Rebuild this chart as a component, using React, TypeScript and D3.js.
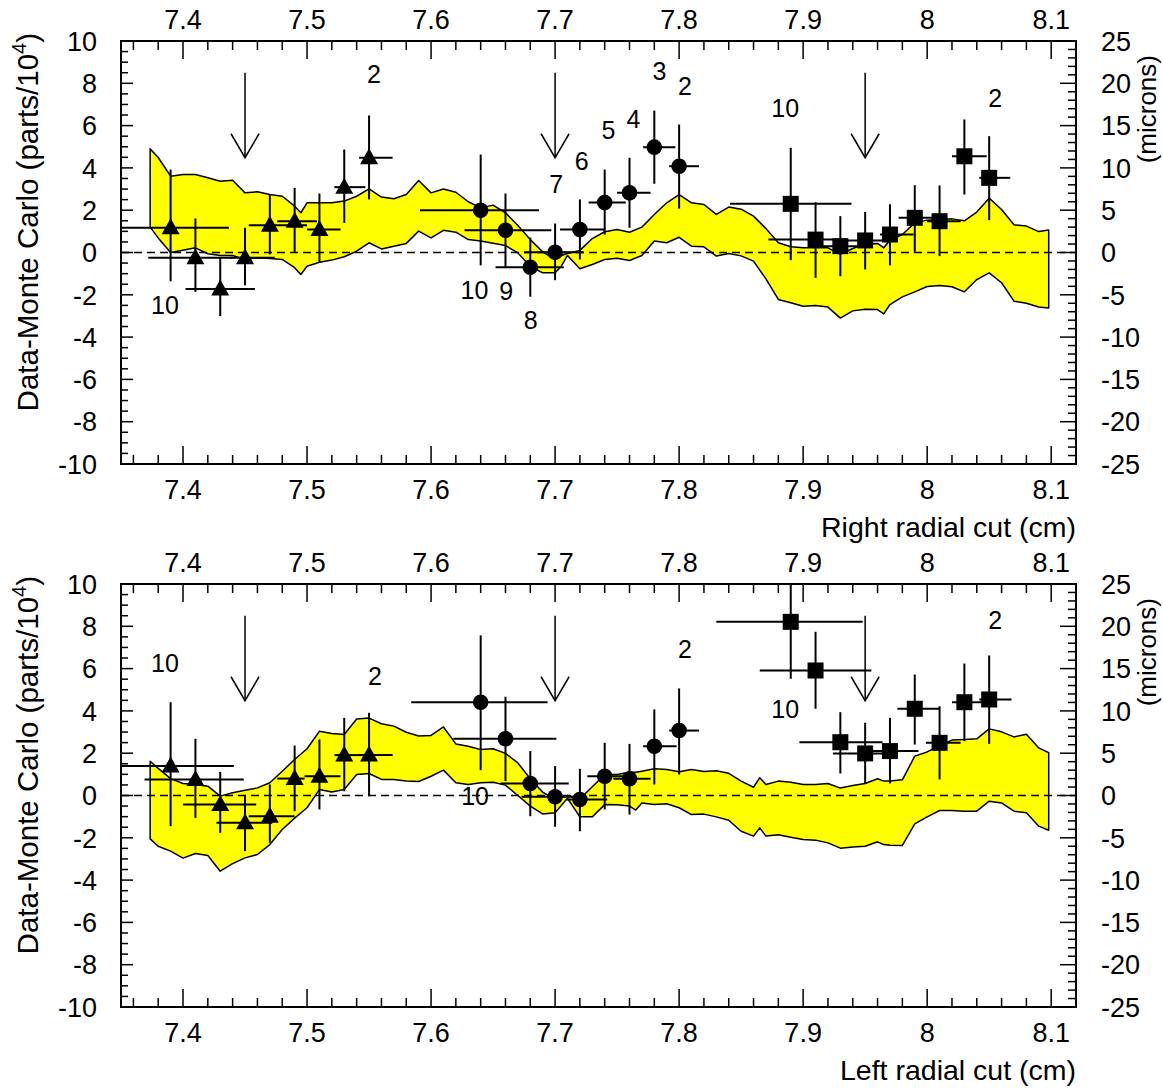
import React from "react";
import * as d3 from "d3";

const W = 1163;
const H = 1088;
const FONT = "'Liberation Sans', Arial, Helvetica, sans-serif";

// axis ticks
const xMajorTicks = [7.4, 7.5, 7.6, 7.7, 7.8, 7.9, 8.0, 8.1];
const xMajorLabels = ["7.4", "7.5", "7.6", "7.7", "7.8", "7.9", "8", "8.1"];
const yMajorTicks = [-10, -8, -6, -4, -2, 0, 2, 4, 6, 8, 10];
const micronMajorTicks = [-25, -20, -15, -10, -5, 0, 5, 10, 15, 20, 25];
const arrowXs = [7.45, 7.7, 7.95];

// band: [x, upper, lower]
const rightBand = [
  [7.3735, 4.9, 1.2], [7.38, 4.49, 0.69], [7.39, 3.61, 0.0], [7.4, 3.69, 0.11], [7.41, 3.69, 0.22],
  [7.42, 3.53, -0.06], [7.43, 3.37, -0.14], [7.44, 3.42, -0.14], [7.45, 2.82, -0.33], [7.46, 2.87, -0.25],
  [7.47, 2.74, -0.28], [7.48, 2.66, -0.33], [7.49, 2.19, -0.72], [7.495, 1.88, -1.04], [7.5, 2.35, -0.65],
  [7.51, 2.35, -0.46], [7.52, 2.35, -0.36], [7.53, 2.43, -0.2], [7.54, 2.66, 0.06], [7.55, 3.01, 0.46],
  [7.56, 2.62, 0.17], [7.57, 2.54, 0.3], [7.58, 2.74, 0.43], [7.59, 3.4, 1.01], [7.6, 2.82, 0.69],
  [7.61, 3.0, 1.05], [7.62, 2.85, 0.96], [7.63, 2.4, 0.61], [7.64, 2.11, 0.54], [7.65, 2.24, 0.44],
  [7.66, 1.88, 0.33], [7.67, 1.28, -0.02], [7.68, 0.61, -0.65], [7.69, 0.03, -0.96], [7.7, -0.33, -0.96],
  [7.705, -0.14, -0.65], [7.71, -0.05, -0.14], [7.72, 0.1, -0.77], [7.73, 0.66, -0.57], [7.74, 0.98, -0.33],
  [7.75, 1.09, -0.27], [7.76, 0.96, -0.38], [7.77, 1.2, -0.14], [7.78, 1.8, 0.54], [7.79, 2.35, 0.46],
  [7.8, 2.74, 0.72], [7.81, 2.35, 0.3], [7.82, 2.27, 0.27], [7.83, 1.8, -0.17], [7.84, 2.15, -0.05],
  [7.85, 2.05, -0.16], [7.86, 1.72, -0.41], [7.87, 1.13, -1.25], [7.88, 0.46, -2.22], [7.89, 0.27, -2.38],
  [7.9, 0.22, -2.54], [7.91, 0.22, -2.51], [7.92, 0.22, -2.58], [7.93, -0.09, -3.1], [7.94, 0.19, -2.76],
  [7.95, 0.41, -2.68], [7.96, 0.43, -2.7], [7.965, 0.22, -2.9], [7.97, 0.58, -2.46], [7.98, 0.85, -2.1],
  [7.99, 1.4, -1.86], [8.0, 1.53, -1.61], [8.01, 1.56, -1.56], [8.02, 1.59, -1.62], [8.03, 1.5, -1.86],
  [8.04, 1.91, -1.28], [8.05, 2.57, -0.96], [8.06, 2.03, -1.43], [8.07, 1.31, -2.3], [8.08, 1.25, -2.4],
  [8.09, 0.99, -2.58], [8.098, 1.06, -2.62],
];

const leftBand = [
  [7.3735, 1.62, -2.05], [7.38, 1.28, -2.4], [7.39, 0.8, -2.63], [7.4, 0.57, -2.96], [7.41, 0.52, -2.74],
  [7.42, 0.44, -2.84], [7.43, -0.03, -3.58], [7.44, 0.13, -3.22], [7.45, 0.25, -2.95], [7.46, 0.36, -2.79],
  [7.47, 0.6, -2.32], [7.48, 1.15, -1.61], [7.49, 1.7, -1.07], [7.5, 2.21, -0.58], [7.51, 3.04, 0.28],
  [7.52, 2.93, 0.17], [7.53, 2.88, 0.28], [7.54, 3.62, 0.99], [7.55, 3.66, 1.04], [7.56, 3.39, 0.76],
  [7.57, 3.28, 0.76], [7.58, 2.99, 0.69], [7.59, 2.81, 0.66], [7.6, 2.84, 0.91], [7.61, 3.24, 1.2],
  [7.62, 2.44, 0.6], [7.63, 2.33, 0.52], [7.64, 2.17, 0.6], [7.65, 2.21, 0.63], [7.66, 1.99, 0.49],
  [7.67, 1.54, 0.0], [7.68, 0.79, -0.5], [7.69, 0.16, -0.87], [7.7, -0.19, -0.82], [7.71, 0.0, -0.13],
  [7.72, -0.16, -1.01], [7.73, 0.41, -1.01], [7.74, 0.99, -0.43], [7.75, 0.99, -0.44], [7.76, 1.1, -0.5],
  [7.765, 1.1, -0.69], [7.77, 1.15, -0.35], [7.78, 1.26, -0.43], [7.79, 1.23, -0.39], [7.8, 1.12, -0.58],
  [7.81, 1.23, -0.9], [7.82, 1.13, -0.88], [7.83, 1.17, -1.01], [7.84, 1.05, -1.17], [7.85, 0.68, -1.69],
  [7.86, 0.39, -1.92], [7.865, 0.84, -1.53], [7.87, 0.52, -1.92], [7.88, 0.68, -1.86], [7.89, 0.63, -1.97],
  [7.9, 0.52, -2.08], [7.91, 0.52, -2.11], [7.92, 0.57, -2.24], [7.93, 0.35, -2.49], [7.94, 0.47, -2.44],
  [7.95, 0.57, -2.4], [7.96, 0.79, -2.19], [7.965, 0.68, -2.32], [7.97, 0.69, -2.35], [7.98, 0.74, -2.36],
  [7.99, 1.86, -1.34], [8.0, 2.06, -1.01], [8.01, 2.36, -0.71], [8.02, 2.62, -0.71], [8.03, 2.65, -0.74],
  [8.04, 2.68, -0.74], [8.05, 3.15, -0.27], [8.06, 3.01, -0.35], [8.07, 2.77, -0.74], [8.08, 2.9, -0.82],
  [8.09, 2.25, -1.45], [8.098, 2.02, -1.64],
];

// points: [x, y, xlo, xhi, ylo, yhi]
const rightTriangles = [
  [7.39, 1.17, 7.34, 7.437, -1.36, 3.92],
  [7.41, -0.25, 7.372, 7.44, -1.86, 1.61],
  [7.43, -1.72, 7.402, 7.458, -3.01, -0.25],
  [7.45, -0.25, 7.438, 7.474, -1.55, 1.17],
  [7.47, 1.29, 7.453, 7.5, -0.09, 2.74],
  [7.49, 1.48, 7.476, 7.508, -0.02, 3.06],
  [7.51, 1.09, 7.5, 7.527, -0.49, 2.79],
  [7.53, 3.09, 7.522, 7.547, 1.4, 4.87],
  [7.55, 4.48, 7.542, 7.569, 2.51, 6.48],
];
const rightCircles = [
  [7.64, 2.0, 7.591, 7.687, -0.61, 4.63],
  [7.66, 1.05, 7.627, 7.697, -0.72, 2.79],
  [7.68, -0.7, 7.652, 7.707, -2.09, 0.7],
  [7.7, 0.01, 7.675, 7.723, -1.31, 1.37],
  [7.72, 1.09, 7.704, 7.74, -0.33, 2.51],
  [7.74, 2.36, 7.727, 7.757, 0.85, 3.92],
  [7.76, 2.82, 7.75, 7.777, 1.17, 4.48],
  [7.78, 4.98, 7.771, 7.797, 3.25, 6.71],
  [7.8, 4.08, 7.792, 7.816, 2.07, 6.05],
];
const rightSquares = [
  [7.89, 2.3, 7.841, 7.939, -0.36, 4.95],
  [7.91, 0.61, 7.872, 7.935, -1.2, 2.38],
  [7.93, 0.3, 7.905, 7.955, -1.12, 1.72],
  [7.95, 0.57, 7.935, 7.97, -0.8, 1.92],
  [7.97, 0.85, 7.962, 7.989, -0.61, 2.28],
  [7.99, 1.64, 7.977, 8.006, 0.03, 3.18],
  [8.01, 1.48, 8.0, 8.027, -0.17, 3.17],
  [8.03, 4.55, 8.02, 8.048, 2.74, 6.29],
  [8.05, 3.53, 8.042, 8.067, 1.53, 5.5],
];
const leftTriangles = [
  [7.39, 1.39, 7.34, 7.441, -1.45, 4.41],
  [7.41, 0.76, 7.369, 7.449, -1.06, 2.68],
  [7.43, -0.43, 7.4, 7.459, -1.77, 1.12],
  [7.45, -1.29, 7.427, 7.472, -2.63, -0.03],
  [7.47, -0.98, 7.453, 7.49, -2.24, 0.52],
  [7.49, 0.8, 7.476, 7.498, -0.74, 2.36],
  [7.51, 0.91, 7.498, 7.527, -0.66, 2.65],
  [7.53, 1.91, 7.522, 7.547, 0.2, 3.67],
  [7.55, 1.91, 7.542, 7.569, -0.03, 3.91],
];
const leftCircles = [
  [7.64, 4.41, 7.584, 7.694, 1.2, 7.57],
  [7.66, 2.68, 7.618, 7.701, 0.68, 4.67],
  [7.68, 0.57, 7.656, 7.711, -0.98, 2.1],
  [7.7, -0.06, 7.673, 7.72, -1.48, 1.39],
  [7.72, -0.19, 7.709, 7.742, -1.69, 1.26],
  [7.74, 0.91, 7.726, 7.758, -0.66, 2.49],
  [7.76, 0.79, 7.747, 7.777, -0.9, 2.44],
  [7.78, 2.33, 7.771, 7.798, 0.52, 4.07],
  [7.8, 3.07, 7.792, 7.816, 0.99, 5.06],
];
const leftSquares = [
  [7.89, 8.21, 7.83, 7.948, 5.52, 10.9],
  [7.91, 5.91, 7.865, 7.955, 4.1, 7.74],
  [7.93, 2.52, 7.897, 7.964, 1.04, 3.94],
  [7.95, 1.99, 7.924, 7.964, 0.57, 3.44],
  [7.97, 2.1, 7.951, 7.993, 0.57, 3.67],
  [7.99, 4.1, 7.976, 8.01, 2.41, 5.72],
  [8.01, 2.49, 7.999, 8.027, 0.76, 4.22],
  [8.03, 4.41, 8.02, 8.047, 2.57, 6.24],
  [8.05, 4.54, 8.042, 8.068, 2.44, 6.62],
];

// annotation numbers: [x, y, text]
const rightLabels = [
  [7.3855, -2.46, "10"], [7.554, 8.42, "2"], [7.635, -1.75, "10"], [7.6605, -1.83, "9"],
  [7.6804, -3.17, "8"], [7.7008, 3.22, "7"], [7.7215, 4.32, "6"], [7.743, 5.78, "5"],
  [7.7631, 6.29, "4"], [7.7841, 8.57, "3"], [7.8048, 7.86, "2"], [7.8855, 6.84, "10"],
  [8.0548, 7.31, "2"],
];
const leftLabels = [
  [7.3855, 6.27, "10"], [7.5548, 5.67, "2"], [7.6355, 0.0, "10"], [7.8048, 6.94, "2"],
  [7.8855, 4.07, "10"], [8.0548, 8.32, "2"],
];

const X0 = 121;
const X1 = 1076;

function Panel({ top, bottom, band, tri, circ, sq, labels, title, id }: any) {
  const x = d3.scaleLinear().domain([7.35, 8.12]).range([X0, X1]);
  const y = d3.scaleLinear().domain([-10, 10]).range([bottom, top]);
  const ym = d3.scaleLinear().domain([-25, 25]).range([bottom, top]);
  const area = d3
    .area<any>()
    .x((d) => x(d[0]))
    .y0((d) => y(d[2]))
    .y1((d) => y(d[1]));
  const xMinor = d3.range(7.36, 8.121, 0.02).filter((v) => Math.abs(v * 10 - Math.round(v * 10)) > 0.01);
  const yMinor = d3.range(-10, 10.01, 0.5).filter((v) => Math.abs(v / 2 - Math.round(v / 2)) > 0.01);
  const mMinor = d3.range(-25, 25.01, 1).filter((v) => Math.abs(v / 5 - Math.round(v / 5)) > 0.01);
  const clipId = "clip" + id;

  const errBars = (pts: any[]) =>
    pts.map((p, i) => (
      <g key={i} stroke="#000" strokeWidth={2}>
        <line x1={x(p[0])} x2={x(p[0])} y1={y(p[4])} y2={y(p[5])} />
        <line x1={x(p[2])} x2={x(p[3])} y1={y(p[1])} y2={y(p[1])} />
      </g>
    ));

  return (
    <g>
      <defs>
        <clipPath id={clipId}>
          <rect x={X0} y={top} width={X1 - X0} height={bottom - top} />
        </clipPath>
      </defs>
      <g clipPath={`url(#${clipId})`}>
        <path d={area(band) || ""} fill="#ffff00" stroke="#000" strokeWidth={1.5} strokeLinejoin="round" />
        <line x1={X0} x2={X1} y1={y(0)} y2={y(0)} stroke="#000" strokeWidth={1.5} strokeDasharray="8,5" />
        {errBars(tri)}
        {errBars(circ)}
        {errBars(sq)}
        {tri.map((p: any, i: number) => {
          const cx = x(p[0]);
          const cy = y(p[1]);
          return (
            <path key={"t" + i} d={`M${cx},${cy - 9.5} L${cx - 9},${cy + 6.5} L${cx + 9},${cy + 6.5} Z`} fill="#000" />
          );
        })}
        {circ.map((p: any, i: number) => (
          <circle key={"c" + i} cx={x(p[0])} cy={y(p[1])} r={7.8} fill="#000" />
        ))}
        {sq.map((p: any, i: number) => (
          <rect key={"s" + i} x={x(p[0]) - 8} y={y(p[1]) - 8} width={16} height={16} fill="#000" />
        ))}
        {arrowXs.map((a, i) => {
          const ax = x(a);
          const tip = y(4.48);
          return (
            <g key={"a" + i} stroke="#000" strokeWidth={1.5} fill="none">
              <line x1={ax} x2={ax} y1={y(8.5)} y2={tip} />
              <polyline points={`${ax - 14},${tip - 24} ${ax},${tip} ${ax + 14},${tip - 24}`} />
            </g>
          );
        })}
      </g>
      {labels.map((l: any, i: number) => (
        <text
          key={"l" + i}
          x={x(l[0])}
          y={y(l[1])}
          dy="0.36em"
          textAnchor="middle"
          fontFamily={FONT}
          fontSize={25}
          fill="#000"
        >
          {l[2]}
        </text>
      ))}
      {/* frame */}
      <rect x={X0} y={top} width={X1 - X0} height={bottom - top} fill="none" stroke="#000" strokeWidth={2} />
      {/* ticks */}
      <g stroke="#000" strokeWidth={1.5}>
        {xMajorTicks.map((v, i) => (
          <g key={"xm" + i}>
            <line x1={x(v)} x2={x(v)} y1={top} y2={top + 18} />
            <line x1={x(v)} x2={x(v)} y1={bottom} y2={bottom - 18} />
          </g>
        ))}
        {xMinor.map((v, i) => (
          <g key={"xn" + i}>
            <line x1={x(v)} x2={x(v)} y1={top} y2={top + 9} />
            <line x1={x(v)} x2={x(v)} y1={bottom} y2={bottom - 9} />
          </g>
        ))}
        {yMajorTicks.map((v, i) => (
          <line key={"ym" + i} x1={X0} x2={X0 + 12} y1={y(v)} y2={y(v)} />
        ))}
        {yMinor.map((v, i) => (
          <line key={"yn" + i} x1={X0} x2={X0 + 7} y1={y(v)} y2={y(v)} />
        ))}
        {micronMajorTicks.map((v, i) => (
          <line key={"mm" + i} x1={X1} x2={X1 - 16} y1={ym(v)} y2={ym(v)} />
        ))}
        {mMinor.map((v, i) => (
          <line key={"mn" + i} x1={X1} x2={X1 - 8} y1={ym(v)} y2={ym(v)} />
        ))}
      </g>
      {/* tick labels and titles */}
      <g fontFamily={FONT} fontSize={27} fill="#000">
        {xMajorTicks.map((v, i) => (
          <text key={"xt" + i} x={x(v)} y={top - 12} textAnchor="middle">
            {xMajorLabels[i]}
          </text>
        ))}
        {xMajorTicks.map((v, i) => (
          <text key={"xb" + i} x={x(v)} y={bottom + 35} textAnchor="middle">
            {xMajorLabels[i]}
          </text>
        ))}
        {yMajorTicks.map((v, i) => (
          <text key={"yl" + i} x={97} y={y(v)} dy="0.36em" textAnchor="end">
            {String(v)}
          </text>
        ))}
        {micronMajorTicks.map((v, i) => (
          <text key={"ml" + i} x={1101} y={ym(v)} dy="0.36em" textAnchor="start">
            {String(v)}
          </text>
        ))}
        <text x={X1} y={bottom + 73} textAnchor="end" fontSize={28.5}>
          {title}
        </text>
        <text transform={`translate(38,${top - 8}) rotate(-90)`} textAnchor="end" fontSize={29.5}>
          Data-Monte Carlo (parts/10
          <tspan dy={-12} fontSize={20}>4</tspan>
          <tspan dy={12}>)</tspan>
        </text>
      </g>
      <text
        transform={`translate(1156,${top + 14}) rotate(-90)`}
        textAnchor="end"
        fontFamily={FONT}
        fontSize={26}
        fill="#000"
      >
        (microns)
      </text>
    </g>
  );
}

export default function App() {
  return (
    <svg
      width={W}
      height={H}
      viewBox={`0 0 ${W} ${H}`}
      style={{ position: "absolute", left: 0, top: 0, background: "#fff" }}
    >
      <rect x={0} y={0} width={W} height={H} fill="#fff" />
      <Panel
        id="r"
        top={41}
        bottom={464}
        band={rightBand}
        tri={rightTriangles}
        circ={rightCircles}
        sq={rightSquares}
        labels={rightLabels}
        title="Right radial cut (cm)"
      />
      <Panel
        id="l"
        top={584}
        bottom={1007}
        band={leftBand}
        tri={leftTriangles}
        circ={leftCircles}
        sq={leftSquares}
        labels={leftLabels}
        title="Left radial cut (cm)"
      />
    </svg>
  );
}
